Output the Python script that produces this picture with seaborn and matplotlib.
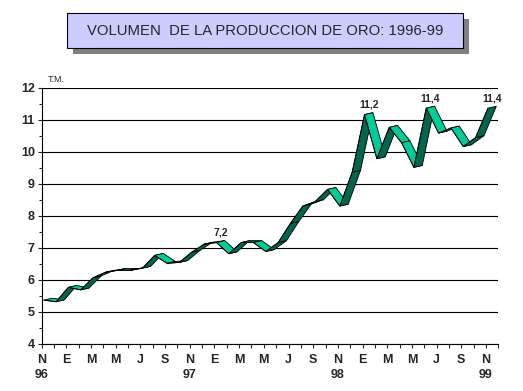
import numpy as np
import pandas as pd
import matplotlib
matplotlib.use("Agg")
import matplotlib.pyplot as plt
import matplotlib.patches as patches
from matplotlib.ticker import MultipleLocator, FixedLocator
import seaborn as sns

# Volumen mensual de la produccion de oro (T.M.), nov 1996 - nov 1999
meses = list(range(37))
volumen = [5.40, 5.35, 5.80, 5.72, 6.10, 6.27, 6.33, 6.33, 6.40, 6.80,
           6.55, 6.58, 6.90, 7.15, 7.20, 6.85, 7.20, 7.20, 6.92, 7.20,
           7.80, 8.34, 8.48, 8.86, 8.34, 9.40, 11.20, 9.82, 10.80, 10.32,
           9.55, 11.40, 10.62, 10.78, 10.20, 10.48, 11.40]
etiquetas_x = ['N\n96', 'E', 'M', 'M', 'J', 'S', 'N\n97', 'E', 'M', 'M', 'J', 'S',
               'N\n98', 'E', 'M', 'M', 'J', 'S', 'N\n99']
puntos_rotulo = [14, 26, 31, 36]
rotulos = ['7,2', '11,2', '11,4', '11,4']

titulo = 'VOLUMEN  DE LA PRODUCCION DE ORO: 1996-99'
verde_oscuro = '#00664F'
verde_claro = '#00CC99'

sns.set_style("white")
plt.rcParams['font.family'] = ['Liberation Sans', 'DejaVu Sans']

W, H = 523, 391
fig = plt.figure(figsize=(W / 100, H / 100), dpi=100)
ax = fig.add_axes([41.7 / W, 1 - 344 / H, (498.3 - 41.7) / W, (344 - 88) / H])

df = pd.DataFrame({'mes': meses, 'volumen': volumen})
df['x'] = df['mes'] + 0.5

# cinta 3D: borde delantero y trasero desplazados
dx, dy = 0.34, 0.03
xs = df['x'].to_numpy()
ys = df['volumen'].to_numpy()
for i in range(len(xs) - 1):
    x0, x1, y0, y1 = xs[i], xs[i + 1], ys[i], ys[i + 1]
    poly = [(x0 - dx, y0 - dy), (x1 - dx, y1 - dy), (x1 + dx, y1 + dy), (x0 + dx, y0 + dy)]
    color = verde_claro if y1 < y0 else verde_oscuro
    ax.add_patch(patches.Polygon(poly, closed=True, facecolor=color,
                                 edgecolor='black', linewidth=0.6, zorder=3))

df['frente_x'] = df['x'] - dx
df['frente_y'] = df['volumen'] - dy
sns.lineplot(data=df, x='frente_x', y='frente_y', color='black', linewidth=0.6,
             ax=ax, zorder=4)

for p, r in zip(puntos_rotulo, rotulos):
    ax.annotate(r, (xs[p], ys[p] + dy), xytext=(0, 2), textcoords='offset points',
                ha='center', va='bottom', fontsize=7.5, fontweight='bold', zorder=5)

ax.set_xlim(0, 37)
ax.set_ylim(4, 12)
ax.set_xlabel('')
ax.set_ylabel('')
ax.yaxis.set_major_locator(MultipleLocator(1))
ax.yaxis.set_minor_locator(MultipleLocator(0.5))
ax.xaxis.set_major_locator(FixedLocator(list(range(0, 38))))
ax.set_xticklabels([etiquetas_x[k // 2] if k % 2 == 0 and k // 2 < len(etiquetas_x) else ''
                    for k in range(0, 38)])
ax.grid(axis='y', color='black', linewidth=0.8, zorder=1)
ax.set_axisbelow(True)
for s in ['top', 'right']:
    ax.spines[s].set_visible(False)
for s in ['left', 'bottom']:
    ax.spines[s].set_color('black')
    ax.spines[s].set_linewidth(0.8)
ax.tick_params(axis='y', which='major', direction='out', length=3, width=0.8,
               pad=2, labelsize=9, left=True)
ax.tick_params(axis='y', which='minor', direction='out', length=2, width=0.8, left=True)
ax.tick_params(axis='x', which='major', direction='out', length=3, width=0.8,
               pad=4.5, labelsize=9, bottom=True)
for lab in ax.get_xticklabels() + ax.get_yticklabels():
    lab.set_fontweight('bold')
for lab in ax.get_xticklabels():
    lab.set_linespacing(1.25)

fig.text(48 / W, 1 - 79 / H, 'T.M.', fontsize=6.5, ha='left', va='center')

# recuadro del titulo con sombra
bx0, by0, bx1, by1 = 67, 13, 463, 48
fig.patches.append(patches.Rectangle(((bx0 + 6) / W, 1 - (by1 + 6) / H),
                                     (bx1 - bx0) / W, (by1 - by0) / H,
                                     transform=fig.transFigure, facecolor='#808080',
                                     edgecolor='none', zorder=0))
fig.patches.append(patches.Rectangle((bx0 / W, 1 - by1 / H),
                                     (bx1 - bx0) / W, (by1 - by0) / H,
                                     transform=fig.transFigure, facecolor='#CCCCFF',
                                     edgecolor='black', linewidth=0.8, zorder=1))
fig.text((bx0 + bx1) / 2 / W, 1 - 31 / H, titulo, fontsize=10.7,
         ha='center', va='center')

fig.savefig('out.png', dpi=100)
